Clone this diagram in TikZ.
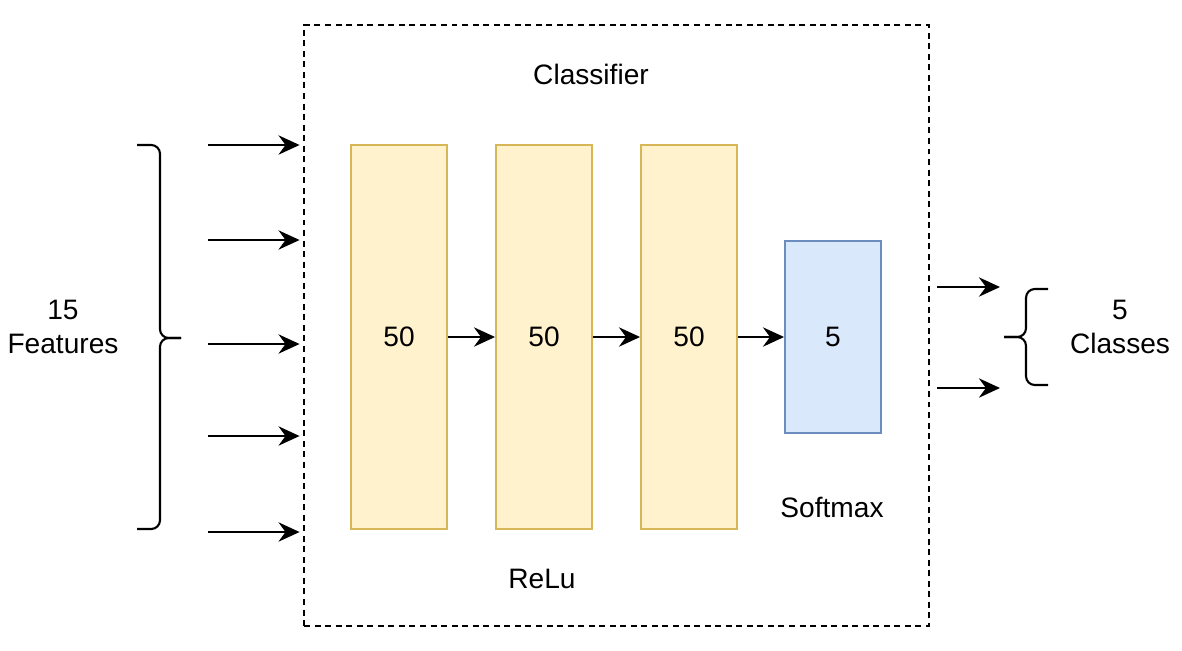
\documentclass[tikz,border=0pt]{standalone}
\usepackage{fontspec}
\setmainfont{Liberation Sans}
\usetikzlibrary{arrows.meta}

\definecolor{relufill}{HTML}{FFF2CC}
\definecolor{relublk}{HTML}{D6B656}
\definecolor{softfill}{HTML}{DAE8FC}
\definecolor{softblk}{HTML}{6C8EBF}
\tikzset{
  relu/.style={draw=relublk, fill=relufill, line width=1.1pt, minimum width=1.92cm, minimum height=7.68cm},
  soft/.style={draw=softblk, fill=softfill, line width=1.1pt, minimum width=1.92cm, minimum height=3.84cm},
  arr/.style={line width=1.2pt, -{Stealth[length=12pt, width=11pt, inset=4pt]}},
  brc/.style={line width=1.2pt, rounded corners=5pt},
}

\begin{document}
\begin{tikzpicture}[x=0.02cm, y=-0.02cm, every node/.style={font=\fontsize{16}{19}\selectfont}]
    \useasboundingbox (0,0) rectangle (1182,650);
    % classifier box
    \node[draw, line width=1.1pt, dash pattern=on 3.4pt off 2.6pt, minimum width=12.5cm, minimum height=12.02cm] (clf) at (616.5,325.5) {};
    \node (title) at (591,74) {Classifier};
    % layers
    \node[relu] (h1) at (399,337) {50};
    \node[relu] (h2) at (544,337) {50};
    \node[relu] (h3) at (689,337) {50};
    \node[soft] (out) at (833,337) {5};
    \draw[arr] (h1) -- (h2);
    \draw[arr] (h2) -- (h3);
    \draw[arr] (h3) -- (out);
    \node (relulbl) at (542,579) {ReLu};
    \node (softlbl) at (832,507) {Softmax};
    % inputs
    \foreach \y [count=\i] in {145,240,344,436,532} {
        \coordinate (in\i) at (208,\y);
        \draw[arr] (in\i) -- ([xshift=-2pt]in\i -| clf.west);
    }
    \draw[brc] (137,145) -| (160,338) -- (181,338);
    \draw[brc] (137,529) -| (160,338) -- (181,338);
    \node[align=center] (feat) at (63,327) {15\\Features};
    % outputs
    \coordinate (o1) at (937,287);
    \coordinate (o2) at (937,388);
    \draw[arr] (o1) -- +(63,0);
    \draw[arr] (o2) -- +(63,0);
    \draw[brc] (1048,289) -| (1026,337) -- (1004,337);
    \draw[brc] (1048,385) -| (1026,337) -- (1004,337);
    \node[align=center] (cls) at (1120,327) {5\\Classes};
\end{tikzpicture}
\end{document}
